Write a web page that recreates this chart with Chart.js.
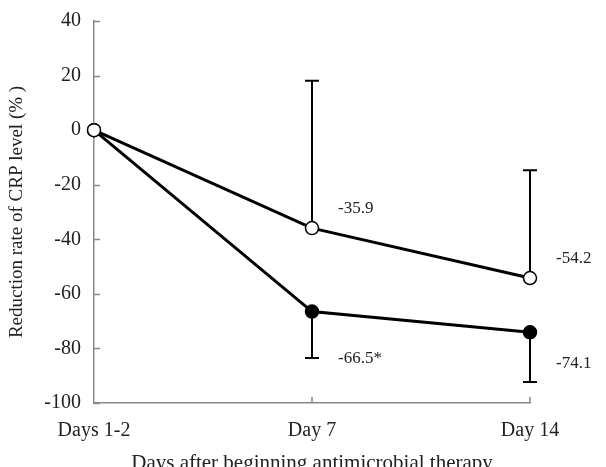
<!DOCTYPE html>
<html>
<head>
<meta charset="utf-8">
<script src="https://cdn.jsdelivr.net/npm/chart.js@4"></script>
<style>
  html, body { margin: 0; padding: 0; background: #fff; }
  #wrap { width: 606px; height: 467px; }
</style>
</head>
<body>
<div id="wrap"><canvas id="myChart"></canvas></div>
<script>
// data
const days = ["Days 1-2", "Day 7", "Day 14"];
const openMeans = [0, -35.9, -54.2];
const openSD = [0, 54, 39.5];
const filledMeans = [0, -66.5, -74.1];
const filledSD = [0, 17, 18.2];
const openLabels = ["", "-35.9", "-54.2"];
const filledLabels = ["", "-66.5*", "-74.1"];
const yTicks = [40, 20, 0, -20, -40, -60, -80, -100];

const FONT = "'Liberation Serif', 'Times New Roman', serif";

// error bars, value labels and inward axis ticks
const errorBars = {
  id: "errorBars",
  beforeDatasetsDraw(chart) {
    const { ctx, scales: { x, y } } = chart;
    ctx.save();
    ctx.strokeStyle = "#000";
    ctx.lineWidth = 2;
    const draw = (means, sd, dir) => {
      means.forEach((m, i) => {
        if (!sd[i]) return;
        const px = x.getPixelForValue(i);
        const y0 = y.getPixelForValue(m);
        const y1 = y.getPixelForValue(m + dir * sd[i]);
        ctx.beginPath();
        ctx.moveTo(px, y0);
        ctx.lineTo(px, y1);
        ctx.moveTo(px - 7, y1);
        ctx.lineTo(px + 7, y1);
        ctx.stroke();
      });
    };
    draw(openMeans, openSD, 1);
    draw(filledMeans, filledSD, -1);

    // ticks point into the plot
    ctx.strokeStyle = "#888";
    ctx.lineWidth = 1.5;
    yTicks.forEach(v => {
      const py = Math.round(y.getPixelForValue(v)) + 0.5;
      ctx.beginPath();
      ctx.moveTo(x.left, py);
      ctx.lineTo(x.left + 6, py);
      ctx.stroke();
    });
    [1, 2].forEach(i => {
      const px = x.getPixelForValue(i);
      ctx.beginPath();
      ctx.moveTo(px, y.bottom);
      ctx.lineTo(px, y.bottom - 6);
      ctx.stroke();
    });
    ctx.restore();
  },
  afterDatasetsDraw(chart) {
    const { ctx, scales: { x, y } } = chart;
    ctx.save();
    ctx.fillStyle = "#222";
    ctx.font = "17px " + FONT;
    ctx.textBaseline = "middle";
    ctx.textAlign = "left";
    openLabels.forEach((t, i) => {
      if (!t) return;
      const px = x.getPixelForValue(i);
      const py = y.getPixelForValue(openMeans[i]);
      ctx.fillText(t, px + 26, py - 20);
    });
    filledLabels.forEach((t, i) => {
      if (!t) return;
      const px = x.getPixelForValue(i);
      const py = y.getPixelForValue(filledMeans[i]);
      ctx.fillText(t, px + 26, py + (i === 1 ? 47 : 31));
    });
    ctx.restore();
  }
};

const ctx = document.getElementById("myChart").getContext("2d");
new Chart(ctx, {
  type: "line",
  data: {
    labels: days,
    datasets: [
      {
        label: "filled",
        data: filledMeans,
        borderColor: "#000",
        backgroundColor: "#000",
        borderWidth: 3,
        pointRadius: 6.5,
        pointBorderWidth: 1.5,
        pointBackgroundColor: ["#fff", "#000", "#000"],
        pointBorderColor: "#000",
        tension: 0,
      },
      {
        label: "open",
        data: openMeans,
        borderColor: "#000",
        backgroundColor: "#fff",
        borderWidth: 3,
        pointRadius: 6.5,
        pointBorderWidth: 1.5,
        pointBackgroundColor: "#fff",
        pointBorderColor: "#000",
        tension: 0,
      },
    ],
  },
  options: {
    responsive: true,
    maintainAspectRatio: false,
    animation: false,
    layout: { padding: { top: 17, right: 76, left: 6, bottom: 0 } },
    plugins: {
      legend: { display: false },
      tooltip: { enabled: false },
    },
    scales: {
      x: {
        offset: false,
        grid: { display: false, drawTicks: false },
        border: { color: "#888", width: 1.5 },
        ticks: { color: "#222", font: { family: FONT, size: 20 }, padding: 16, maxRotation: 0 },
        title: {
          display: true,
          text: "Days after beginning antimicrobial therapy",
          color: "#222",
          font: { family: FONT, size: 21 },
          padding: { top: 17, bottom: -9 },
        },
        afterFit(scale) { scale.height = 64; },
      },
      y: {
        min: -100,
        max: 40,
        grid: { display: false, drawTicks: false },
        border: { color: "#888", width: 1.5 },
        afterBuildTicks(scale) { scale.ticks = yTicks.map(v => ({ value: v })); },
        ticks: { color: "#222", font: { family: FONT, size: 20, lineHeight: 0.8 }, padding: 13 },
        title: {
          display: true,
          text: "Reduction rate of CRP level (% )",
          color: "#222",
          font: { family: FONT, size: 19 },
          padding: { top: 0, bottom: 6 },
        },
        afterFit(scale) { scale.width = 88; },
      },
    },
  },
  plugins: [errorBars],
});
</script>
</body>
</html>
